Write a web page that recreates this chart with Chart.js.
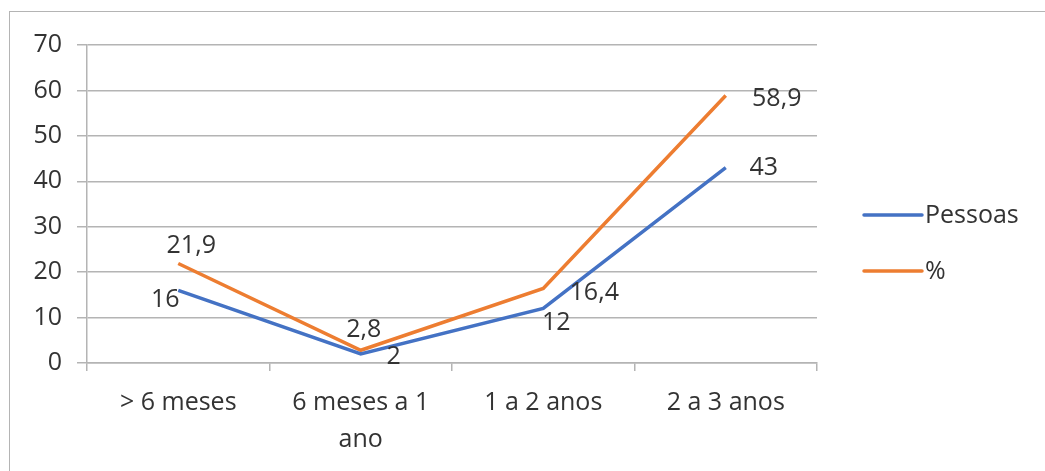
<!DOCTYPE html>
<html>
<head>
<meta charset="utf-8">
<script src="https://cdn.jsdelivr.net/npm/chart.js@4.4.1/dist/chart.umd.min.js"></script>
<style>
  html, body { margin: 0; padding: 0; background: #fff; overflow: hidden; }
  #wrap { position: relative; width: 1045px; height: 471px; }
  #frame { position: absolute; left: 9px; top: 11px; width: 1100px; height: 520px; border: 1px solid #b4b4b4; }
  canvas { position: absolute; left: 0; top: 0; }
</style>
</head>
<body>
<div id="wrap">
  <div id="frame"></div>
  <canvas id="lineChart" width="1045" height="471"></canvas>
</div>
<script>
const categories = ['> 6 meses', ['6 meses a 1', 'ano'], '1 a 2 anos', '2 a 3 anos'];
const pessoasValues = [16, 2, 12, 43];
const percentValues = [21.9, 2.8, 16.4, 58.9];
const yTicks = [0, 10, 20, 30, 40, 50, 60, 70];

const textColor = '#333333';
const gridColor = '#b4b4b4';
const fontFamily = '"Open Sans", sans-serif';
const fontSize = 25;

// label offsets from the point, per dataset
const labelOffsets = [
  [[-13, 10], [33, 3], [13, 14], [38, 0]],
  [[13, -18], [3, -20], [51, 4], [51, 3]]
];

const pointLabels = {
  id: 'pointLabels',
  afterDatasetsDraw(chart) {
    const ctx = chart.ctx;
    ctx.save();
    ctx.font = fontSize + 'px ' + fontFamily;
    ctx.fillStyle = textColor;
    ctx.textAlign = 'center';
    ctx.textBaseline = 'middle';
    chart.data.datasets.forEach((ds, i) => {
      chart.getDatasetMeta(i).data.forEach((pt, j) => {
        const off = labelOffsets[i][j];
        const txt = String(ds.data[j]).replace('.', ',');
        ctx.fillText(txt, pt.x + off[0], pt.y + off[1]);
      });
    });
    ctx.restore();
  }
};

const sideLegend = {
  id: 'sideLegend',
  afterDraw(chart) {
    const ctx = chart.ctx;
    ctx.save();
    ctx.font = fontSize + 'px ' + fontFamily;
    ctx.textBaseline = 'middle';
    ctx.textAlign = 'left';
    chart.data.datasets.forEach((ds, i) => {
      const y = 215 + i * 56;
      ctx.strokeStyle = ds.borderColor;
      ctx.lineWidth = 3.5;
      ctx.lineCap = 'round';
      ctx.beginPath();
      ctx.moveTo(864, y);
      ctx.lineTo(922, y);
      ctx.stroke();
      ctx.fillStyle = textColor;
      ctx.fillText(ds.label, 925, y + 1);
    });
    ctx.restore();
  }
};

new Chart(document.getElementById('lineChart'), {
  type: 'line',
  data: {
    labels: categories,
    datasets: [
      {
        label: 'Pessoas',
        data: pessoasValues,
        borderColor: '#4472C4',
        backgroundColor: '#4472C4',
        borderWidth: 3.5,
        pointRadius: 0,
        tension: 0,
      },
      {
        label: '%',
        data: percentValues,
        borderColor: '#ED7D31',
        backgroundColor: '#ED7D31',
        borderWidth: 3.5,
        pointRadius: 0,
        tension: 0,
      }
    ]
  },
  options: {
    responsive: false,
    animation: false,
    layout: {
      padding: { left: 0, top: 45, right: 228, bottom: 0 }
    },
    scales: {
      x: {
        offset: true,
        grid: {
          offset: true,
          drawOnChartArea: false,
          color: gridColor,
          lineWidth: 1.5,
          tickLength: 8,
        },
        border: { color: gridColor, width: 1.5 },
        ticks: {
          color: textColor,
          padding: 14,
          maxRotation: 0,
          autoSkip: false,
          font: { family: fontFamily, size: fontSize, lineHeight: 1.45 }
        },
        afterFit(scale) { scale.height = 108; }
      },
      y: {
        min: 0,
        max: 70,
        afterBuildTicks(scale) { scale.ticks = yTicks.map(v => ({ value: v })); },
        grid: {
          color: gridColor,
          lineWidth: 1.5,
          tickLength: 10,
        },
        border: { color: gridColor, width: 1.5 },
        ticks: {
          color: textColor,
          padding: 15,
          font: { family: fontFamily, size: fontSize }
        },
        afterFit(scale) { scale.width = 87; }
      }
    },
    plugins: {
      legend: { display: false },
      tooltip: { enabled: false }
    }
  },
  plugins: [pointLabels, sideLegend]
});
</script>
</body>
</html>
